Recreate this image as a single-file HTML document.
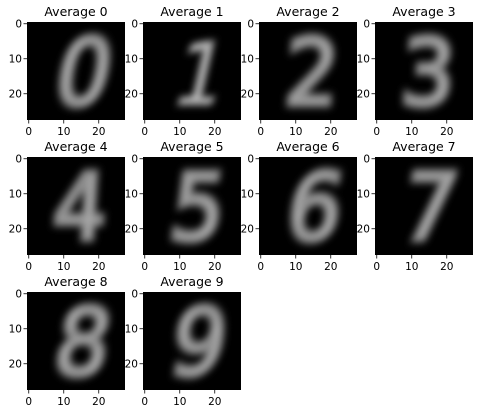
<!DOCTYPE html>
<html><head><meta charset="utf-8">
<style>
html,body{margin:0;padding:0;background:#fff;}
svg{display:block;font-family:"DejaVu Sans","Liberation Sans",sans-serif;}
</style></head>
<body>
<svg id="fig" width="483" height="413" viewBox="0 0 483 413" xmlns="http://www.w3.org/2000/svg">
<defs>
<filter id="blur" x="-30%" y="-30%" width="160%" height="160%"><feGaussianBlur stdDeviation="4"/></filter>
</defs>
</svg>
<script>
const digits = [0,1,2,3,4,5,6,7,8,9];
const titles = ["Average 0","Average 1","Average 2","Average 3","Average 4","Average 5","Average 6","Average 7","Average 8","Average 9"];
const ticks = [0,10,20];
const colX = [27,143,259,375];
const rowY = [22,157,292];
const S = 98, N = 28;
const NS = "http://www.w3.org/2000/svg";
const svg = document.getElementById('fig');
function mk(tag, attrs, parent){const e=document.createElementNS(NS,tag);for(const k in attrs)e.setAttribute(k,attrs[k]);(parent||svg).appendChild(e);return e;}
const skew = {0:-12,1:-14,2:-4,3:-4,4:-4,5:-8,6:-10,7:-8,8:-10,9:-10};
digits.forEach((d,i)=>{
  const x0 = colX[i%4], y0 = rowY[Math.floor(i/4)];
  const sx = v => x0 + (v+0.5)*S/N;
  const sy = v => y0 + (v+0.5)*S/N;
  const g = mk('g',{});
  
  
  const cp = mk('clipPath',{id:'c'+i},g);
  mk('rect',{x:x0,y:y0,width:S,height:S},cp);
  const bg = mk('rect',{x:x0,y:y0,width:S,height:S,fill:'#000'},g);
  
  
  const cg = mk('g',{'clip-path':'url(#c'+i+')'},g);
  const t = mk('text',{x:0,y:0,'font-size':d===1?86:92,'text-anchor':'middle',fill:'#bdbdbd',stroke:'#8a8a8a','stroke-width':d===1?2:6,filter:'url(#blur)',
    transform:'translate('+(x0+S/2+2)+','+(y0+S*0.84)+') scale(0.92,1) skewX('+skew[d]+')'},cg);
  t.textContent = String(d);
  
  
  const tt = mk('text',{x:x0+S/2,y:y0-6,'font-size':12.5,'text-anchor':'middle',fill:'#000'},g);
  tt.textContent = titles[i];
  
  
  ticks.forEach(v=>{
    mk('line',{x1:sx(v),x2:sx(v),y1:y0+S,y2:y0+S+3.5,stroke:'#000','stroke-width':0.8},g);
    const xl = mk('text',{x:sx(v),y:y0+S+15,'font-size':10.5,'text-anchor':'middle',fill:'#000'},g);
    xl.textContent = v;
    
    
    mk('line',{x1:x0-3.5,x2:x0,y1:sy(v),y2:sy(v),stroke:'#000','stroke-width':0.8},g);
    const yl = mk('text',{x:x0-5,y:sy(v)+3.5,'font-size':10.5,'text-anchor':'end',fill:'#000'},g);
    yl.textContent = v;
    
    
  });
});
</script>
</body></html>
